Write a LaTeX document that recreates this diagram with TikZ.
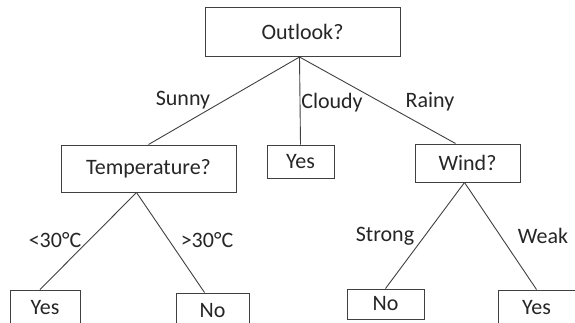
\documentclass[tikz,border=0pt]{standalone}
\usepackage{fontspec}
\setmainfont{Carlito}
\begin{document}
\begin{tikzpicture}
   [x=1pt,y=-1pt,every node/.style={font=\fontsize{22}{26}\selectfont,text=black!85},
    box/.style={draw=black!75,line width=1pt,fill=white,inner sep=0pt},
    lbl/.style={inner sep=0pt}]
  \useasboundingbox (0,0) rectangle (575,322);
  \clip (0,0) rectangle (575,322);

  \node[box,minimum width=195pt,minimum height=49pt] (outlook) at (302.5,32) {Outlook?};
  \node[box,minimum width=175pt,minimum height=47pt] (temp) at (148.5,168.5) {Temperature?};
  \node[box,minimum width=67pt,minimum height=33pt] (yes1) at (300.5,161.5) {Yes};
  \node[box,minimum width=105pt,minimum height=38pt] (wind) at (467.5,163) {Wind?};
  \node[box,minimum width=70pt,minimum height=36pt] (yes2) at (45,308) {Yes};
  \node[box,minimum width=73pt,minimum height=36pt] (no1) at (212.5,311) {No};
  \node[box,minimum width=77pt,minimum height=30pt] (no2) at (385.5,304) {No};
  \node[box,minimum width=77pt,minimum height=36pt] (yes3) at (536.5,308) {Yes};

  % where the branches leave and meet the boxes
  \coordinate (o) at ([xshift=-3pt]outlook.south);
  \coordinate (t) at ([xshift=-12pt]temp.south);
  \coordinate (w) at ([xshift=-3pt]wind.south);
  \coordinate (wn) at ([xshift=-12pt]wind.north);
  \coordinate (y2n) at ([xshift=-5pt]yes2.north);
  \coordinate (n1n) at ([xshift=-8pt]no1.north);

  \foreach \from/\to in {o/temp.north, o/yes1.north, o/wn, t/y2n, t/n1n, w/no2.north, w/yes3.north}
    \draw[black!75,line width=0.9pt] (\from) -- (\to);

  \node[lbl] (sunny) at (183,100) {Sunny};
  \node[lbl] (cloudy) at (332,103) {Cloudy};
  \node[lbl] (rainy) at (430,102) {Rainy};
  \node[lbl] (lt30) at (55,240) {<30°C};
  \node[lbl] (gt30) at (207,240) {>30°C};
  \node[lbl] (strong) at (385,236) {Strong};
  \node[lbl] (weak) at (543,236) {Weak};

\end{tikzpicture}
\end{document}
